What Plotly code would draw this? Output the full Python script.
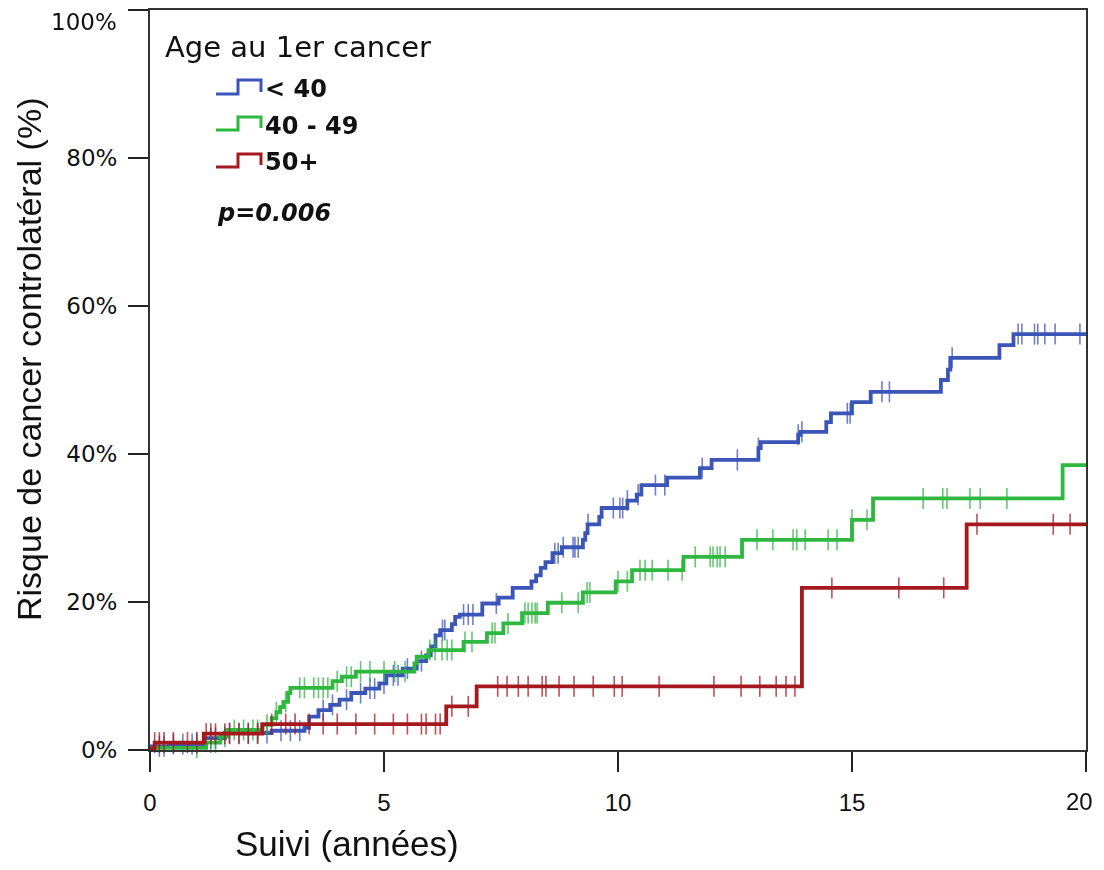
import numpy as np
import plotly.graph_objects as go

# ---------------- data ----------------
groups = ["< 40", "40 - 49", "50+"]
colors = ["#3B55B8", "#2EB83F", "#A5191E"]

# step times (years) and cumulative risk (%) after each step
blue_t = [0, 0.4, 1.15, 1.6, 2.6, 3.3, 3.4, 3.6, 3.85, 4.05, 4.3, 4.6, 4.9, 5.05, 5.4, 5.7,
          5.9, 6.0, 6.1, 6.2, 6.45, 6.52, 6.62, 7.1, 7.45, 7.75, 8.15, 8.25, 8.35, 8.45, 8.6,
          8.8, 9.25, 9.3, 9.35, 9.6, 9.65, 10.2, 10.4, 10.5, 11.05, 11.75, 12.0, 13.0, 13.05,
          13.85, 13.9, 14.45, 14.55, 15.0, 15.4, 16.9, 17.05, 17.1, 18.15, 18.45]
blue_v = [0.5, 0.8, 1.6, 2.3, 2.6, 3.0, 4.5, 5.4, 6.1, 6.8, 7.7, 8.3, 9.0, 10.1, 11.0, 12.0,
          12.8, 14.0, 15.5, 16.2, 17.0, 18.0, 18.3, 19.8, 20.6, 21.9, 22.8, 23.6, 24.6, 25.4, 26.6,
          27.4, 28.4, 29.3, 30.5, 31.5, 32.7, 33.7, 34.5, 35.8, 36.8, 38.1, 39.2, 40.8, 41.6,
          42.6, 43.0, 44.3, 45.5, 47.0, 48.4, 50.0, 51.4, 53.0, 54.7, 56.2]

green_t = [0, 1.2, 1.5, 1.65, 2.4, 2.6, 2.7, 2.78, 2.85, 2.95, 3.0, 3.9, 4.1, 4.4, 5.65, 5.7,
           5.95, 6.7, 7.2, 7.55, 7.95, 8.5, 9.25, 9.95, 10.3, 11.4, 12.65, 15.0, 15.45, 19.5]
green_v = [0.3, 1.0, 1.8, 2.7, 3.4, 4.3, 5.1, 5.8, 6.5, 7.7, 8.4, 9.3, 9.9, 10.6, 11.7, 12.6,
           13.5, 14.6, 15.8, 17.1, 18.5, 19.9, 21.3, 22.8, 24.3, 26.1, 28.4, 31.1, 34.0, 38.5]

red_t = [0, 0.1, 1.15, 2.4, 6.33, 6.98, 13.93, 17.45]
red_v = [0.2, 1.0, 2.2, 3.5, 5.9, 8.6, 21.9, 30.5]

# censoring times (years)
blue_c = [0.2, 0.3, 0.5, 0.7, 0.9, 1.0, 1.3, 1.4, 1.7, 1.9, 2.1, 2.3, 2.5, 2.8, 3.0, 3.2,
          3.7, 3.9, 4.2, 4.5, 4.7, 4.8, 5.0, 5.2, 5.3, 5.5, 5.8, 6.25, 6.3, 6.7, 6.8, 6.9, 7.4,
          8.65, 8.72, 8.83, 9.04, 9.08, 9.15, 9.36, 9.9, 10.04, 10.1, 10.2, 10.43, 10.8, 11.0,
          11.8, 12.55, 13.0, 13.85, 13.93, 14.9, 14.96, 15.64, 15.8, 17.14, 18.55, 18.63,
          18.9, 18.97, 19.12, 19.34, 19.87]
green_c = [1.0, 1.3, 1.4, 1.6, 1.8, 2.0, 2.2, 2.3, 2.5, 2.7, 2.9, 3.2, 3.3, 3.5, 3.6, 3.7,
           3.8, 4.0, 4.2, 4.3, 4.5, 4.7, 5.0, 5.23, 5.45, 5.98, 6.09, 6.24, 6.35, 6.45, 6.73,
           6.88, 7.31, 7.37, 7.65, 8.01, 8.08, 8.16, 8.23, 8.27, 8.8, 9.15, 9.34, 9.4, 10.0,
           10.2, 10.47, 10.58, 10.73, 11.07, 11.37, 11.65, 11.97, 12.03, 12.12, 12.18, 12.29,
           12.97, 13.31, 13.74, 13.82, 14.0, 14.49, 14.68, 15.0, 15.32, 16.52, 16.94, 17.03,
           17.52, 17.74, 18.31]
red_c = [0.1, 0.2, 0.3, 0.5, 0.8, 1.0, 1.2, 1.3, 1.4, 1.6, 1.7, 1.9, 2.1, 2.3, 2.6, 2.9,
         3.1, 3.4, 3.7, 4.0, 4.4, 4.8, 5.2, 5.5, 5.8, 5.9, 6.1, 6.2, 6.45, 6.8, 7.43, 7.63,
         7.87, 8.08, 8.38, 8.46, 8.74, 9.06, 9.47, 9.92, 10.09, 10.88, 12.05, 12.63, 13.03,
         13.38, 13.59, 13.78, 14.57, 16.0, 16.96, 17.67, 19.3, 19.66]

x_ticks = [0, 5, 10, 15, 20]
x_ticklabels = ["0", "5", "10", "15", "20"]
y_ticks = [0, 20, 40, 60, 80, 100]
y_ticklabels = ["0%", "20%", "40%", "60%", "80%", "100%"]
x_end = 20

series = [(blue_t, blue_v, blue_c), (green_t, green_v, green_c), (red_t, red_v, red_c)]

# ---------------- figure ----------------
# the page has an 8px body margin, so the figure is offset by 8px in the screenshot
OFF = 8
W, H = 1104 - OFF, 870 - 2 * OFF
PL, PR, PT, PB = 150, 1086, 10, 750          # plot area in screenshot pixels
ML, MT = PL - OFF, PT - OFF
MR = W - (PR - OFF)
MB = H - (PB - OFF)

fig = go.Figure()
for (t, v, c), col, name in zip(series, colors, groups):
    t_arr = np.array(t, dtype=float)
    v_arr = np.array(v, dtype=float)
    xs = list(t_arr) + [x_end]
    ys = list(v_arr) + [v_arr[-1]]
    fig.add_trace(go.Scatter(x=xs, y=ys, mode="lines", line=dict(color=col, width=3.8, shape="hv"),
                             name=name, showlegend=False, hoverinfo="skip", cliponaxis=False))
    c_arr = np.array(c, dtype=float)
    idx = np.searchsorted(t_arr, c_arr, side="right") - 1
    fig.add_trace(go.Scatter(x=c_arr, y=v_arr[idx], mode="markers", opacity=0.75,
                             marker=dict(symbol="line-ns", size=15,
                                         line=dict(color=col, width=1.6)),
                             showlegend=False, hoverinfo="skip", cliponaxis=False))

def px(xp):
    return (xp - PL) / (PR - PL)

def py(yp):
    return (PB - yp) / (PB - PT)

shapes = []
annotations = []
# custom legend
annotations.append(dict(text="Age au 1er cancer", x=px(163), y=py(47), xref="paper", yref="paper",
                        xanchor="left", yanchor="middle", showarrow=False,
                        font=dict(family="DejaVu Sans", size=29, color="#111")))
leg_y = [(94, 80, 89), (130, 117, 126), (167, 154, 162)]
for (lo, hi, ty), col, name in zip(leg_y, colors, groups):
    path = f"M {px(216)} {py(lo)} L {px(238)} {py(lo)} L {px(238)} {py(hi)} L {px(261)} {py(hi)} L {px(261)} {py(lo-2)}"
    shapes.append(dict(type="path", path=path, xref="paper", yref="paper",
                       line=dict(color=col, width=3)))
    annotations.append(dict(text=f"<b>{name}</b>", x=px(263), y=py(ty), xref="paper", yref="paper",
                            xanchor="left", yanchor="middle", showarrow=False,
                            font=dict(family="DejaVu Sans", size=24, color="#111")))
annotations.append(dict(text="<b><i>p=0.006</i></b>", x=px(215), y=py(213), xref="paper", yref="paper",
                        xanchor="left", yanchor="middle", showarrow=False,
                        font=dict(family="DejaVu Sans", size=24, color="#111")))
# edge tick labels kept inside the visible page
annotations.append(dict(text=y_ticklabels[-1], x=px(119), y=py(22), xref="paper", yref="paper",
                        xanchor="right", yanchor="middle", showarrow=False,
                        font=dict(family="DejaVu Sans", size=23, color="#111")))
annotations.append(dict(text=x_ticklabels[-1], x=px(1095), y=py(801), xref="paper", yref="paper",
                        xanchor="right", yanchor="middle", showarrow=False,
                        font=dict(family="Liberation Sans", size=24, color="#111")))
# axis titles
annotations.append(dict(text="Suivi (années)", x=px(233), y=py(843), xref="paper", yref="paper",
                        xanchor="left", yanchor="middle", showarrow=False,
                        font=dict(family="Liberation Sans", size=35, color="#111")))
annotations.append(dict(text="Risque de cancer controlatéral (%)", x=px(29), y=py(360),
                        xref="paper", yref="paper", xanchor="center", yanchor="middle",
                        textangle=-90, showarrow=False, borderpad=0,
                        font=dict(family="Liberation Sans", size=34, color="#111")))

fig.update_layout(
    width=W, height=H,
    margin=dict(l=ML, r=MR, t=MT, b=MB, autoexpand=False),
    plot_bgcolor="white", paper_bgcolor="white",
    shapes=shapes, annotations=annotations,
    showlegend=False,
)
fig.update_xaxes(range=[0, 20], tickvals=x_ticks, ticktext=x_ticklabels[:-1] + [""],
                 ticks="outside", ticklen=20, tickwidth=2,
                 tickcolor="#222", showline=True, linecolor="#333", linewidth=2, mirror=True,
                 showgrid=False, zeroline=False, automargin=False, ticklabeloverflow="allow",
                 ticklabelstandoff=10,
                 tickfont=dict(family="Liberation Sans", size=24, color="#111"))
fig.update_yaxes(range=[0, 100], tickvals=y_ticks, ticktext=y_ticklabels[:-1] + [""], ticks="outside",
                 ticklen=20, tickwidth=2, tickcolor="#222", showline=True, linecolor="#333",
                 linewidth=2, mirror=True, showgrid=False, zeroline=False, automargin=False,
                 ticklabeloverflow="allow", ticklabelstandoff=6,
                 tickfont=dict(family="DejaVu Sans", size=23, color="#111"))

fig.write_html("out.html")
